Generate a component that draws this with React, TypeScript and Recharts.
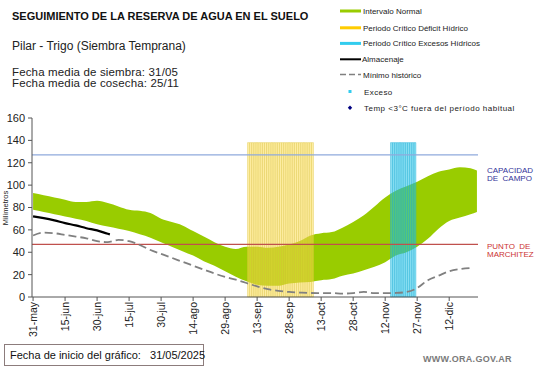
import React from 'react';
import { ComposedChart, Area, Bar, Line, XAxis, YAxis, ReferenceLine } from 'recharts';

// ---- data (days since 31-may) ----
const dayCount = 209;
const tickDays = [0, 15, 30, 45, 60, 75, 90, 105, 120, 135, 150, 165, 180, 195];
const tickLabels = ['31-may', '15-jun', '30-jun', '15-jul', '30-jul', '14-ago', '29-ago', '13-sep', '28-sep', '13-oct', '28-oct', '12-nov', '27-nov', '12-dic'];

const normalDays = [0, 5, 10, 15, 20, 25, 30, 35, 40, 45, 50, 55, 60, 65, 70, 75, 80, 85, 90, 95, 100, 105, 110, 115, 120, 125, 130, 135, 140, 145, 150, 155, 160, 165, 170, 175, 180, 185, 190, 195, 200, 205, 208];
const normalHigh = [93, 91, 89, 87, 85, 85, 86, 84, 81, 78, 77, 75, 70, 67, 64, 59, 54, 49, 45, 43, 45, 45, 44, 45, 47, 50, 55, 57, 58, 62, 67, 73, 81, 89, 95, 99, 103, 108, 112, 114, 116, 115, 113];
const normalLow = [78, 76, 74, 72, 70, 68, 65, 63, 61, 59, 56, 53, 49, 45, 41, 37, 32, 28, 23, 18, 14, 11, 10, 10, 12, 13, 13.5, 15, 16, 19, 21, 24, 27, 31, 37, 40, 45, 52, 61, 68, 71, 74, 76];

const storageDays = [0, 5, 10, 15, 20, 25, 30, 35, 36];
const storage = [72, 70.5, 68.5, 66, 64, 61.5, 59.5, 56.5, 56];

const minDays = [0, 5, 10, 15, 20, 25, 30, 35, 40, 45, 50, 55, 60, 65, 70, 75, 80, 85, 90, 95, 100, 105, 110, 115, 120, 125, 130, 135, 140, 145, 150, 155, 160, 165, 170, 175, 180, 185, 190, 195, 200, 206];
const minHist = [55, 57.5, 57, 55.5, 54, 52.5, 50, 49, 51, 50, 46.5, 42, 38.5, 35, 31.5, 28, 24.5, 21, 18, 15.5, 12.5, 9.5, 7, 5.5, 4.5, 4, 3.6, 3.5, 3.5, 3, 3.5, 4.5, 3.5, 3.5, 3.6, 4.5, 8, 15, 19, 23, 25, 26];

const deficitPeriod = [101, 131];
const excessPeriod = [168, 179];
const criticalTop = 138;
const fieldCapacity = 127;
const wiltingPoint = 47;

const rows = Array.from({ length: dayCount }, (_, day) => {
  const ni = normalDays.indexOf(day);
  const si = storageDays.indexOf(day);
  const mi = minDays.indexOf(day);
  return {
    day,
    normal: ni >= 0 ? [normalLow[ni], normalHigh[ni]] : null,
    storage: si >= 0 ? storage[si] : null,
    minHist: mi >= 0 ? minHist[mi] : null,
    deficit: day >= deficitPeriod[0] && day <= deficitPeriod[1] ? criticalTop : null,
    excess: day >= excessPeriod[0] && day <= excessPeriod[1] ? criticalTop : null,
  };
});

const FONT = '"Liberation Sans", Arial, sans-serif';

const XTick = (props: any) => {
  const { x, y, payload } = props;
  const label = tickLabels[tickDays.indexOf(Number(payload.value))] ?? '';
  return (
    <g transform={`translate(${x},${y + 1}) rotate(-90)`}>
      <text x={0} y={0} dy="0.36em" textAnchor="end" fontSize={10.5} fontFamily={FONT} fill="#222">
        {label}
      </text>
    </g>
  );
};

export default function App() {
  return (
    <div style={{ position: 'absolute', left: 0, top: 0, width: 541, height: 368, background: '#fff', fontFamily: FONT }}>
      <ComposedChart width={541} height={368} data={rows} margin={{ top: 118, right: 63, bottom: 21, left: 0 }}>
        <XAxis
          dataKey="day"
          type="category"
          ticks={tickDays}
          interval={0}
          tick={<XTick />}
          tickSize={4}
          tickMargin={0}
          height={50}
          stroke="#555"
        />
        <YAxis
          type="number"
          domain={[0, 160]}
          ticks={[0, 20, 40, 60, 80, 100, 120, 140, 160]}
          width={32}
          tickSize={4}
          tickMargin={3}
          stroke="#555"
          tick={{ fontSize: 11, fontFamily: FONT, fill: '#222' }}
          interval={0}
        />
        <Area
          dataKey="normal"
          type="monotone"
          connectNulls
          stroke="none"
          fill="#99cc00"
          fillOpacity={1}
          isAnimationActive={false}
          dot={false}
          activeDot={false}
        />
        <Bar dataKey="deficit" stackId="crit" barSize={2.2} fill="#ffe050" fillOpacity={0.5} stroke="#dcc440" strokeOpacity={0.55} strokeWidth={0.7} isAnimationActive={false} />
        <Bar dataKey="excess" stackId="crit" barSize={2.2} fill="#1cc4e8" fillOpacity={0.5} stroke="#20b0d8" strokeOpacity={0.6} strokeWidth={0.7} isAnimationActive={false} />
        <ReferenceLine y={fieldCapacity} stroke="#8faadc" strokeWidth={1.3} />
        <ReferenceLine y={wiltingPoint} stroke="#c0504d" strokeWidth={1.2} />
        <Line dataKey="minHist" type="monotone" connectNulls stroke="#808080" strokeWidth={1.8} strokeDasharray="8 4" dot={false} activeDot={false} isAnimationActive={false} />
        <Line dataKey="storage" type="monotone" connectNulls stroke="#000" strokeWidth={2.2} dot={false} activeDot={false} isAnimationActive={false} />
      </ComposedChart>

      <svg width={541} height={368} style={{ position: 'absolute', left: 0, top: 0, pointerEvents: 'none' }}>
        <text x={12} y={20} fontSize={11} fontWeight="bold" fontFamily={FONT} fill="#111">SEGUIMIENTO DE LA RESERVA DE AGUA EN EL SUELO</text>
        <text x={12} y={50} fontSize={12} fontFamily={FONT} fill="#222">Pilar - Trigo (Siembra Temprana)</text>
        <text x={12} y={75.5} fontSize={11.5} fontFamily={FONT} fill="#222" letterSpacing={0.15}>Fecha media de siembra: 31/05</text>
        <text x={12} y={87} fontSize={11.5} fontFamily={FONT} fill="#222" letterSpacing={0.15}>Fecha media de cosecha: 25/11</text>

        <text transform="translate(8,208) rotate(-90)" textAnchor="middle" fontSize={7.5} fontFamily={FONT} fill="#222">Milímetros</text>

        <text x={487} y={173} fontSize={8} fontFamily={FONT} fill="#333399">CAPACIDAD</text>
        <text x={487} y={181.3} fontSize={8} fontFamily={FONT} fill="#333399">{'DE\u00A0\u00A0CAMPO'}</text>
        <text x={487} y={249} fontSize={8} fontFamily={FONT} fill="#cc3333">{'PUNTO\u00A0\u00A0DE'}</text>
        <text x={487} y={257.3} fontSize={8} fontFamily={FONT} fill="#cc3333">MARCHITEZ</text>

        {/* legend */}
        <rect x={340} y={9.5} width={21} height={3} fill="#99cc00" />
        <text x={363} y={14} fontSize={8} fontFamily={FONT} fill="#222">Intervalo Normal</text>
        <rect x={340} y={26.3} width={21} height={3} fill="#ffcc00" />
        <text x={363} y={30.8} fontSize={8} fontFamily={FONT} fill="#222">Periodo Crítico Déficit Hídrico</text>
        <rect x={340} y={41.9} width={21} height={3} fill="#33ccee" />
        <text x={363} y={46.4} fontSize={8} fontFamily={FONT} fill="#222">Periodo Crítico Excesos Hídricos</text>
        <line x1={340} x2={361} y1={59.3} y2={59.3} stroke="#000" strokeWidth={2} />
        <text x={362} y={62.3} fontSize={8} fontFamily={FONT} fill="#222">Almacenaje</text>
        <line x1={340} x2={361} y1={74.6} y2={74.6} stroke="#808080" strokeWidth={1.5} strokeDasharray="6 3" />
        <text x={363} y={77.6} fontSize={8} fontFamily={FONT} fill="#222">Mínimo histórico</text>
        <rect x={348.5} y={90} width={3} height={3} fill="#33ccee" />
        <text x={364} y={94.5} fontSize={8} fontFamily={FONT} fill="#222" letterSpacing={0.4}>Exceso</text>
        <path d="M350 105.5 L352.2 107.8 L350 110.1 L347.8 107.8 Z" fill="#000080" />
        <text x={364} y={110.8} fontSize={8} fontFamily={FONT} fill="#222" letterSpacing={0.5}>Temp &lt;3°C fuera del período habitual</text>

        <text x={423} y={362} fontSize={9} fontWeight="bold" fontFamily={FONT} fill="#7a7a7a" letterSpacing={0.3}>WWW.ORA.GOV.AR</text>
      </svg>

      <div style={{ position: 'absolute', left: 4, top: 344, width: 200, height: 22, boxSizing: 'border-box', border: '1px solid #8c7c7c', fontFamily: '"Liberation Sans Narrow", "Liberation Sans", Arial, sans-serif', fontSize: 11, lineHeight: '20px', paddingLeft: 5, color: '#111', whiteSpace: 'pre' }}>
        {'Fecha de inicio del gráfico:   31/05/2025'}
      </div>
    </div>
  );
}
